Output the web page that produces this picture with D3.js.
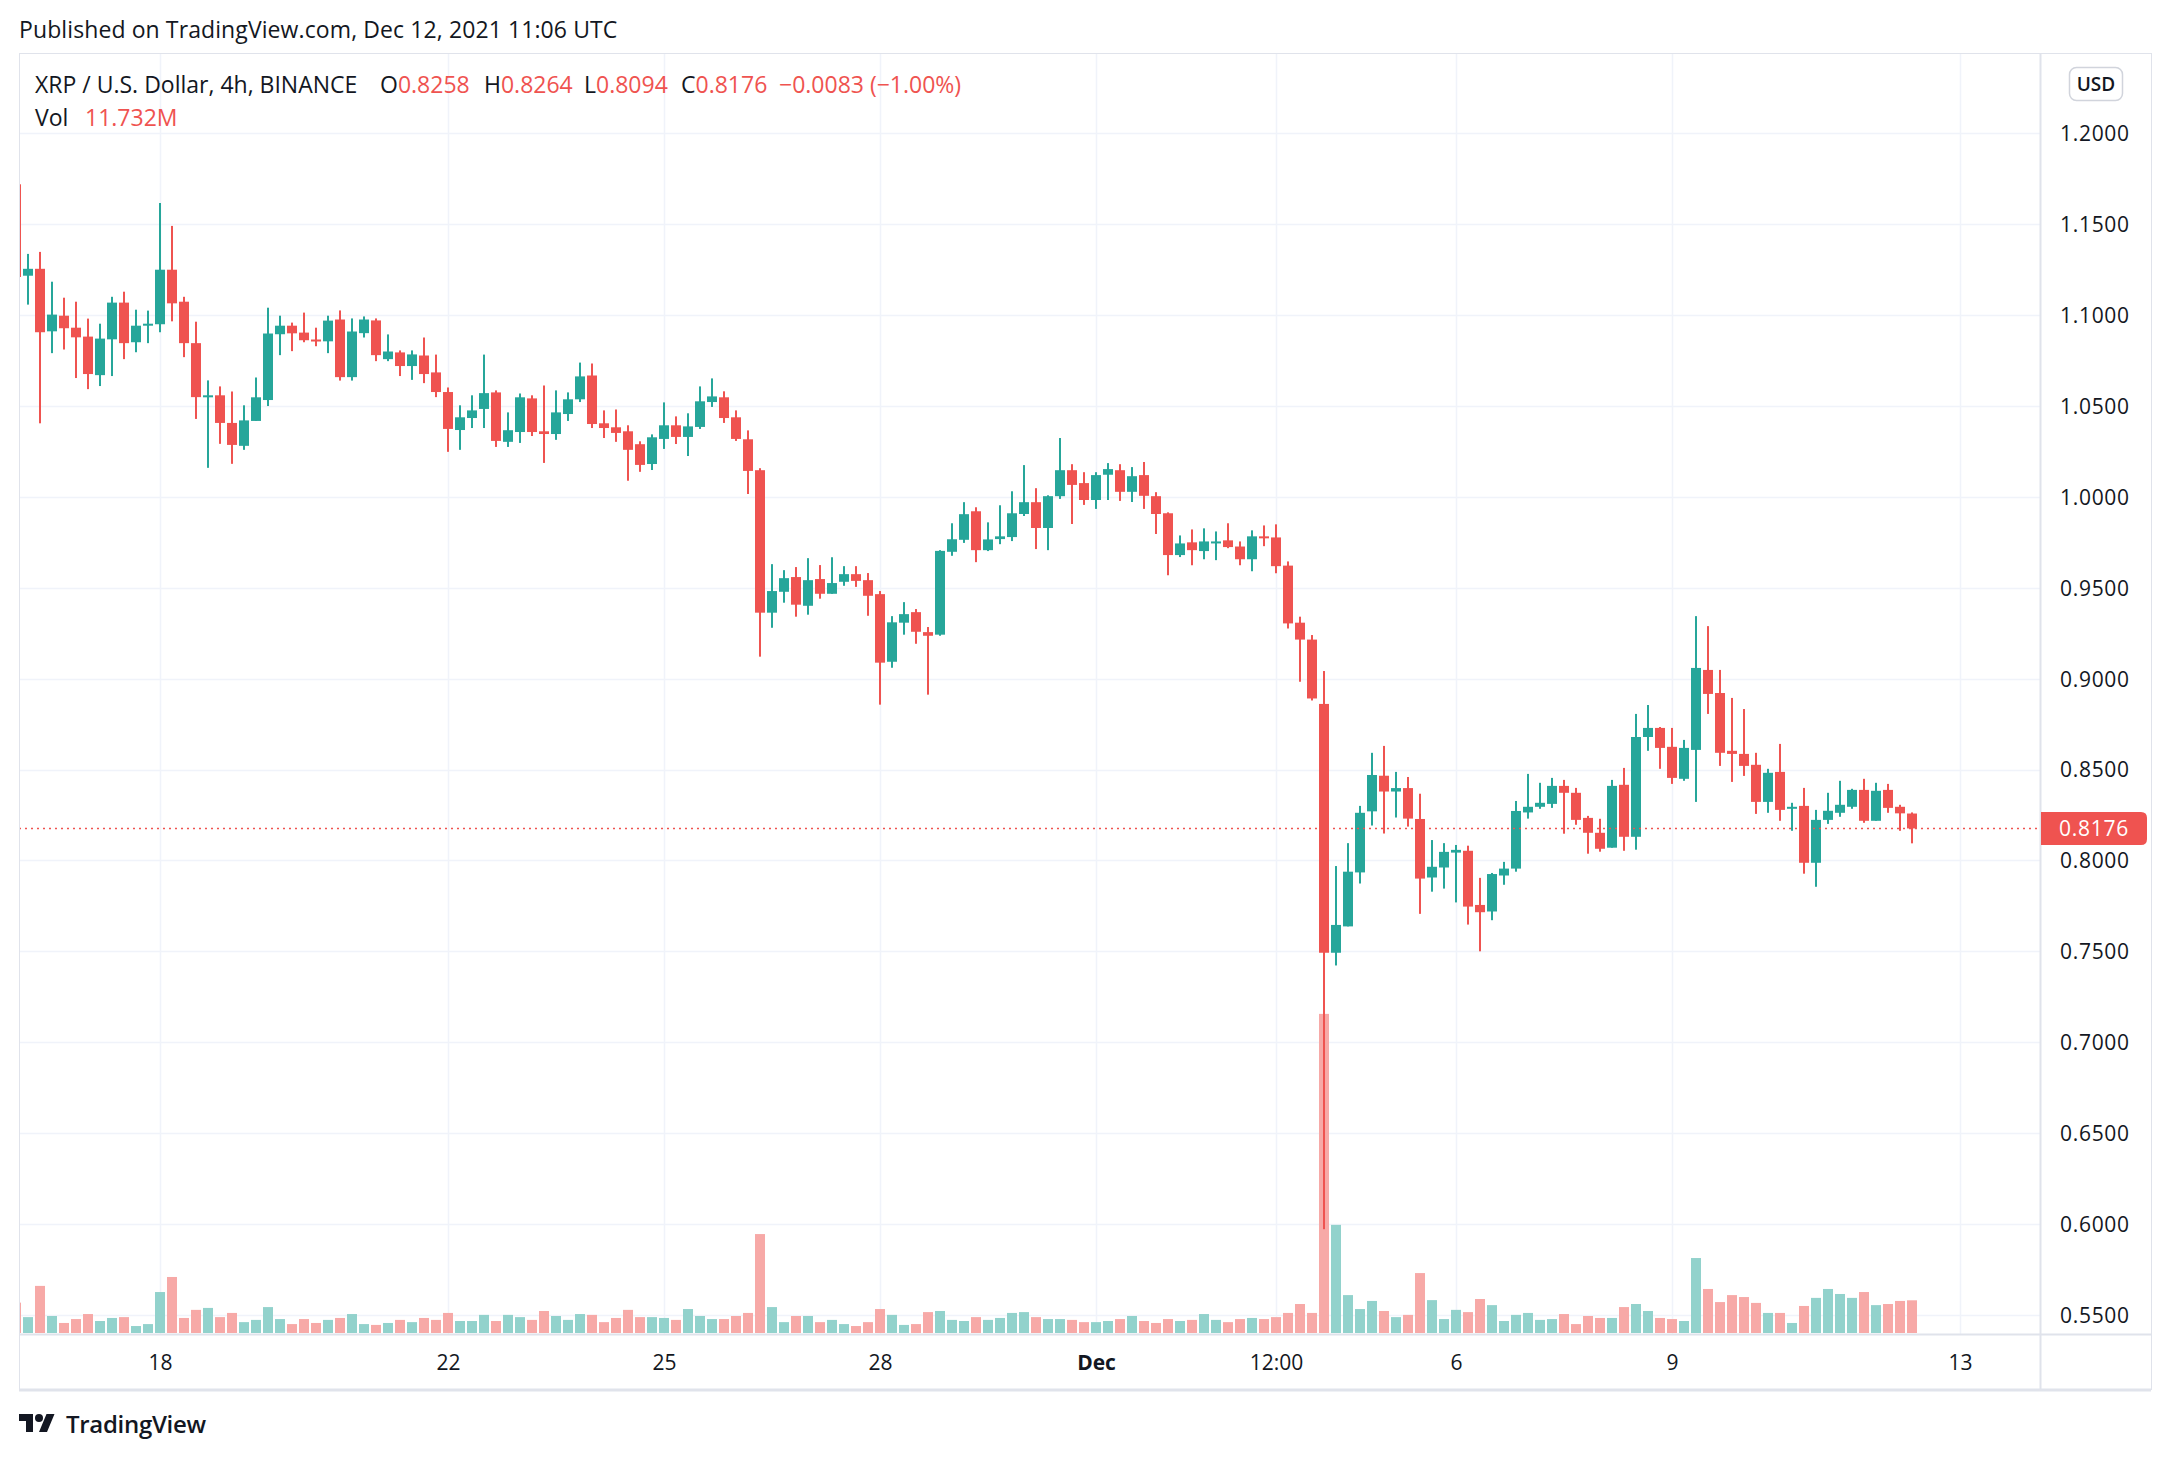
<!DOCTYPE html>
<html>
<head>
<meta charset="utf-8">
<script src="https://cdn.jsdelivr.net/npm/d3@7"></script>
<style>
  html, body { margin: 0; padding: 0; background: #ffffff; }
  svg { display: block; }
  text { font-family: "Open Sans", "Noto Sans", sans-serif; }
</style>
</head>
<body>
<svg id="chart" width="2172" height="1460"></svg>
<script>
// ---------- DATA (XRP/USD 4h, BINANCE, from Nov 16 2021 00:00 UTC) ----------
const startTime = Date.UTC(2021, 10, 16, 0, 0);
const open = [
1.172,1.1217,1.1255,1.0911,1.0997,1.0931,1.0882,1.0670,1.0867,1.1069,
1.0851,1.0944,1.0950,1.1250,1.1074,1.0846,1.0549,1.0559,1.0407,1.0281,
1.0418,1.0533,1.0895,1.0942,1.0904,1.0866,1.0856,1.0976,1.0659,1.0901,
1.0971,1.0758,1.0795,1.0720,1.0778,1.0685,1.0577,1.0368,1.0434,1.0484,
1.0575,1.0303,1.0357,1.0542,1.0361,1.0346,1.0456,1.0537,1.0668,1.0405,
1.0383,1.0361,1.0290,1.0181,1.0319,1.0394,1.0330,1.0385,1.0522,1.0548,
1.0438,1.0317,1.0147,0.9363,0.9478,0.9559,0.9401,0.9548,0.9467,0.9533,
0.9575,0.9542,0.9465,0.9093,0.9308,0.9366,0.9256,0.9242,0.9698,0.9764,
0.9921,0.9707,0.9768,0.9779,0.9906,0.9971,0.9829,1.0004,1.0147,1.0076,
0.9983,1.0122,1.0147,1.0028,1.0120,1.0004,0.9910,0.9680,0.9750,0.9702,
0.9746,0.9761,0.9727,0.9657,0.9783,0.9777,0.9622,0.9308,0.9215,0.8861,
0.7492,0.7637,0.7934,0.8270,0.8466,0.8379,0.8398,0.8228,0.7906,0.7961,
0.8043,0.8053,0.7755,0.7719,0.7917,0.7955,0.8264,0.8295,0.8311,0.8410,
0.8372,0.8234,0.8152,0.8070,0.8416,0.8130,0.8679,0.8729,0.8625,0.8449,
0.8608,0.9048,0.8921,0.8603,0.8586,0.8526,0.8322,0.8487,0.8284,0.8300,
0.7987,0.8223,0.8262,0.8295,0.8388,0.8218,0.8388,0.8295,0.8258];
const high = [
1.174,1.1337,1.1348,1.1184,1.1096,1.1074,1.0981,1.0953,1.1101,1.1129,
1.1030,1.1025,1.1617,1.1491,1.1101,1.0964,1.0641,1.0608,1.0580,1.0504,
1.0657,1.1041,1.0997,1.0959,1.1014,1.0931,1.0997,1.1026,1.0982,1.0993,
1.0982,1.0894,1.0806,1.0806,1.0877,1.0783,1.0602,1.0504,1.0559,1.0783,
1.0586,1.0465,1.0569,1.0559,1.0613,1.0586,1.0575,1.0739,1.0734,1.0476,
1.0481,1.0394,1.0306,1.0344,1.0520,1.0443,1.0460,1.0608,1.0652,1.0581,
1.0476,1.0366,1.0158,0.9630,0.9597,0.9614,0.9663,0.9625,0.9668,0.9619,
0.9619,0.9581,0.9482,0.9344,0.9421,0.9383,0.9284,0.9707,0.9855,0.9971,
0.9943,0.9860,0.9954,1.0031,1.0175,1.0048,1.0009,1.0324,1.0180,1.0136,
1.0136,1.0186,1.0180,1.0164,1.0192,1.0026,0.9915,0.9788,0.9821,0.9827,
0.9810,0.9855,0.9755,0.9816,0.9843,0.9849,0.9645,0.9341,0.9240,0.9042,
0.7969,0.8095,0.8300,0.8592,0.8630,0.8487,0.8459,0.8367,0.8112,0.8095,
0.8085,0.8081,0.7904,0.7931,0.7992,0.8327,0.8476,0.8427,0.8454,0.8443,
0.8399,0.8245,0.8229,0.8443,0.8509,0.8806,0.8855,0.8734,0.8729,0.8663,
0.9344,0.9289,0.9048,0.8894,0.8833,0.8592,0.8504,0.8641,0.8317,0.8399,
0.8278,0.8372,0.8438,0.8394,0.8449,0.8427,0.8421,0.8306,0.8264];
const low = [
1.119,1.1058,1.0405,1.0791,1.0811,1.0654,1.0593,1.0610,1.0665,1.0758,
1.0796,1.0846,1.0906,1.0966,1.0769,1.0429,1.0160,1.0292,1.0182,1.0259,
1.0418,1.0500,1.0780,1.0802,1.0851,1.0829,1.0791,1.0640,1.0640,1.0877,
1.0747,1.0747,1.0665,1.0644,1.0626,1.0549,1.0248,1.0259,1.0379,1.0379,
1.0275,1.0275,1.0297,1.0335,1.0187,1.0314,1.0418,1.0522,1.0379,1.0324,
1.0303,1.0089,1.0138,1.0148,1.0264,1.0291,1.0225,1.0374,1.0495,1.0407,
1.0308,1.0016,0.9121,0.9280,0.9418,0.9341,0.9352,0.9440,0.9467,0.9511,
0.9505,0.9346,0.8857,0.9060,0.9242,0.9192,0.8912,0.9236,0.9676,0.9747,
0.9641,0.9702,0.9740,0.9757,0.9895,0.9713,0.9707,0.9989,0.9851,0.9956,
0.9934,0.9983,0.9978,0.9972,0.9934,0.9796,0.9569,0.9669,0.9624,0.9657,
0.9652,0.9718,0.9624,0.9591,0.9729,0.9580,0.9276,0.8983,0.8880,0.5971,
0.7422,0.7637,0.7873,0.8192,0.8148,0.8236,0.8186,0.7706,0.7828,0.7845,
0.7769,0.7647,0.7500,0.7671,0.7866,0.7938,0.8230,0.8284,0.8289,0.8147,
0.8196,0.8037,0.8048,0.8070,0.8053,0.8059,0.8603,0.8504,0.8421,0.8438,
0.8322,0.8806,0.8520,0.8432,0.8465,0.8256,0.8262,0.8218,0.8163,0.7927,
0.7855,0.8201,0.8240,0.8284,0.8207,0.8218,0.8262,0.8163,0.8094];
const close = [
1.121,1.1255,1.0906,1.1003,1.0928,1.0878,1.0676,1.0871,1.1069,1.0846,
1.0942,1.0953,1.1250,1.1065,1.0846,1.0549,1.0559,1.0407,1.0286,1.0421,
1.0548,1.0899,1.0942,1.0900,1.0862,1.0856,1.0970,1.0659,1.0910,1.0976,
1.0780,1.0800,1.0720,1.0784,1.0676,1.0577,1.0374,1.0438,1.0476,1.0571,
1.0308,1.0367,1.0548,1.0357,1.0346,1.0465,1.0537,1.0663,1.0401,1.0379,
1.0352,1.0259,1.0176,1.0328,1.0394,1.0330,1.0388,1.0526,1.0553,1.0434,
1.0319,1.0143,0.9363,0.9482,0.9553,0.9407,0.9542,0.9467,0.9526,0.9575,
0.9538,0.9456,0.9088,0.9310,0.9355,0.9258,0.9236,0.9703,0.9767,0.9905,
0.9707,0.9766,0.9783,0.9910,0.9971,0.9829,1.0004,1.0147,1.0066,0.9983,
1.0120,1.0153,1.0028,1.0114,1.0006,0.9906,0.9680,0.9744,0.9707,0.9755,
0.9755,0.9724,0.9657,0.9783,0.9772,0.9619,0.9304,0.9215,0.8891,0.7492,
0.7645,0.7938,0.8262,0.8470,0.8379,0.8398,0.8230,0.7900,0.7965,0.8047,
0.8058,0.7746,0.7715,0.7925,0.7955,0.8272,0.8295,0.8317,0.8410,0.8372,
0.8223,0.8152,0.8064,0.8410,0.8130,0.8679,0.8729,0.8619,0.8454,0.8619,
0.9059,0.8916,0.8592,0.8586,0.8520,0.8322,0.8482,0.8278,0.8295,0.7987,
0.8223,0.8273,0.8306,0.8388,0.8218,0.8383,0.8289,0.8259,0.8176];
// volume in millions XRP
const volume = [
10.9,5.7,16.9,6.1,3.6,5.0,6.8,4.3,5.4,5.7,
2.5,3.2,14.7,20.1,5.4,8.3,9.0,5.7,7.2,3.9,
4.7,9.3,5.0,3.2,5.0,3.6,4.7,5.4,6.8,3.2,
2.9,3.6,4.7,3.9,5.4,4.7,7.2,4.3,4.3,6.5,
4.3,6.5,5.7,4.7,7.9,6.1,4.7,6.8,6.5,3.9,
5.4,8.3,5.7,5.7,5.4,4.7,8.6,6.1,5.0,5.0,
6.1,7.2,35.5,9.3,3.9,6.1,6.1,3.9,4.7,3.2,
2.5,3.9,8.6,6.5,2.9,3.2,7.5,7.9,4.7,4.3,
5.7,4.7,5.4,7.2,7.5,5.7,5.0,5.0,4.7,3.9,
3.9,4.3,5.0,6.1,4.3,3.6,5.0,4.3,4.7,6.8,
4.7,3.9,5.0,5.4,5.0,5.7,7.2,10.4,7.2,114.5,
38.8,13.6,8.6,11.5,7.9,5.7,6.5,21.5,11.8,5.0,
8.3,7.5,12.2,10.0,4.3,6.5,7.2,4.7,5.0,6.8,
3.2,6.1,5.4,5.4,9.3,10.4,7.9,5.4,5.0,4.3,
26.9,15.8,11.1,13.6,12.9,10.8,7.2,7.2,3.6,9.7,
12.6,15.8,14.0,12.6,14.7,10.0,10.4,11.5,11.732];

const priceTicks = [1.20,1.15,1.10,1.05,1.00,0.95,0.90,0.85,0.80,0.75,0.70,0.65,0.60,0.55];
const timeTickDates = [
  Date.UTC(2021,10,18), Date.UTC(2021,10,22), Date.UTC(2021,10,25), Date.UTC(2021,10,28),
  Date.UTC(2021,11,1), Date.UTC(2021,11,3,12), Date.UTC(2021,11,6), Date.UTC(2021,11,9), Date.UTC(2021,11,13)];
const timeTickLabels = ["18","22","25","28","Dec","12:00","6","9","13"];
const lastPrice = 0.8176;

// ---------- LAYOUT ----------
const W = 2172, H = 1460;
const plot = {left: 19, right: 2040, top: 53, bottom: 1334};
const axisRight = 2151, axisBottom = 1389;
const UP = "#26a69a", DOWN = "#ef5350";
const UPV = "#92d2cc", DOWNV = "#f7a9a7";
const TXT = "#131722", GRID = "#f0f3fa", BORDER = "#e0e3eb";

const svg = d3.select("#chart");
svg.append("rect").attr("width", W).attr("height", H).attr("fill", "#fff");

const HOUR = 3600 * 1000;
const dates = open.map((_, i) => new Date(startTime + i * 4 * HOUR));
const candles = dates.map((d, i) => ({d, o: open[i], h: high[i], l: low[i], c: close[i], v: volume[i]}));

const x = d3.scaleUtc()
  .domain([new Date(startTime), new Date(Date.UTC(2021, 11, 13))])
  .range([16, 16 + 12 * 162]);
const y = d3.scaleLinear().domain([0.55, 1.2]).range([1314.8, 133.4]);
const yv = d3.scaleLinear().domain([0, 100]).range([1333, 1333 - 278.7]);

const bodyW = 10, wickW = 2;

// clip path
svg.append("defs").append("clipPath").attr("id", "plotclip")
  .append("rect").attr("x", plot.left + 1).attr("y", plot.top + 1)
  .attr("width", plot.right - plot.left - 1).attr("height", plot.bottom - plot.top - 1);

// grid
const grid = svg.append("g").attr("clip-path", "url(#plotclip)");
grid.selectAll("line.h").data(priceTicks).join("line")
  .attr("x1", plot.left).attr("x2", plot.right)
  .attr("y1", d => Math.round(y(d)) + 0.5).attr("y2", d => Math.round(y(d)) + 0.5)
  .attr("stroke", GRID).attr("stroke-width", 1.5);
grid.selectAll("line.v").data(timeTickDates).join("line")
  .attr("x1", d => Math.round(x(new Date(d))) + 0.5).attr("x2", d => Math.round(x(new Date(d))) + 0.5)
  .attr("y1", plot.top).attr("y2", plot.bottom)
  .attr("stroke", GRID).attr("stroke-width", 1.5);

// volume bars
const marks = svg.append("g").attr("clip-path", "url(#plotclip)");
marks.selectAll("rect.vol").data(candles).join("rect")
  .attr("x", d => x(d.d) - bodyW / 2)
  .attr("width", bodyW)
  .attr("y", d => yv(d.v))
  .attr("height", d => yv(0) - yv(d.v))
  .attr("fill", d => d.c >= d.o ? UPV : DOWNV);

// wicks
marks.selectAll("rect.wick").data(candles).join("rect")
  .attr("x", d => x(d.d) - wickW / 2)
  .attr("width", wickW)
  .attr("y", d => y(d.h))
  .attr("height", d => Math.max(1, y(d.l) - y(d.h)))
  .attr("fill", d => d.c >= d.o ? UP : DOWN);

// bodies
marks.selectAll("rect.body").data(candles).join("rect")
  .attr("x", d => x(d.d) - bodyW / 2)
  .attr("width", bodyW)
  .attr("y", d => y(Math.max(d.o, d.c)))
  .attr("height", d => Math.max(2, Math.abs(y(d.o) - y(d.c))))
  .attr("fill", d => d.c >= d.o ? UP : DOWN);

// last price dotted line
svg.append("line")
  .attr("x1", plot.left).attr("x2", plot.right)
  .attr("y1", y(lastPrice)).attr("y2", y(lastPrice))
  .attr("stroke", DOWN).attr("stroke-width", 1.5).attr("stroke-dasharray", "2,4");

// borders
svg.append("rect").attr("x", plot.left + 0.5).attr("y", plot.top + 0.5)
  .attr("width", axisRight - plot.left).attr("height", axisBottom - plot.top)
  .attr("fill", "none").attr("stroke", BORDER).attr("stroke-width", 1);
svg.append("line").attr("x1", plot.right + 0.5).attr("x2", plot.right + 0.5)
  .attr("y1", plot.top).attr("y2", axisBottom).attr("stroke", BORDER).attr("stroke-width", 2);
svg.append("line").attr("x1", plot.left).attr("x2", axisRight)
  .attr("y1", plot.bottom + 0.5).attr("y2", plot.bottom + 0.5).attr("stroke", BORDER).attr("stroke-width", 2);
svg.append("line").attr("x1", plot.left).attr("x2", axisRight)
  .attr("y1", axisBottom + 1).attr("y2", axisBottom + 1).attr("stroke", BORDER).attr("stroke-width", 3);

// price axis
const yAxis = d3.axisRight(y).tickValues(priceTicks).tickFormat(d3.format(".4f")).tickSize(0).tickPadding(0);
const ya = svg.append("g").attr("transform", `translate(2060,0)`).call(yAxis);
ya.select(".domain").remove();
ya.selectAll("text").attr("fill", TXT).attr("font-size", 21)
  .attr("font-family", "'Open Sans', sans-serif").attr("letter-spacing", "0.7px").attr("dy", "0.35em");

// USD box
svg.append("rect").attr("x", 2069.5).attr("y", 67.5).attr("width", 53).attr("height", 33).attr("rx", 7)
  .attr("fill", "#fff").attr("stroke", "#d1d4dc").attr("stroke-width", 1.5);
svg.append("text").attr("x", 2096).attr("y", 91).attr("text-anchor", "middle")
  .attr("font-size", 19).attr("font-weight", 600).attr("fill", TXT).text("USD");

// last price label
svg.append("path")
  .attr("d", `M2041,812 H2141 Q2147,812 2147,818 V839 Q2147,845 2141,845 H2041 Z`)
  .attr("fill", DOWN);
svg.append("text").attr("x", 2094).attr("y", y(lastPrice)).attr("dy", "0.35em")
  .attr("text-anchor", "middle").attr("font-size", 21).attr("letter-spacing", "0.7px")
  .attr("fill", "#fff").text(d3.format(".4f")(lastPrice));

// time axis
const xAxis = d3.axisBottom(x).tickValues(timeTickDates.map(d => new Date(d)))
  .tickFormat((d, i) => timeTickLabels[i]).tickSize(0).tickPadding(0);
const xa = svg.append("g").attr("transform", `translate(0,1370)`).call(xAxis);
xa.select(".domain").remove();
xa.selectAll("text").attr("fill", TXT).attr("font-size", 21).attr("dy", 0)
  .attr("font-weight", (d, i) => timeTickLabels[i] === "Dec" ? 700 : 400);

// header
svg.append("text").attr("x", 19).attr("y", 38).attr("font-size", 23).attr("letter-spacing", "0.1px").attr("fill", TXT)
  .text("Published on TradingView.com, Dec 12, 2021 11:06 UTC");

const legend = svg.append("text").attr("y", 93).attr("font-size", 23).attr("fill", TXT);
legend.append("tspan").attr("x", 35).text("XRP / U.S. Dollar, 4h, BINANCE");
const n = close.length - 1;
const ohlc = [["O", open[n], 380], ["H", high[n], 484], ["L", low[n], 584], ["C", close[n], 681]];
ohlc.forEach(([k, v, px]) => {
  legend.append("tspan").attr("x", px).attr("fill", TXT).text(k);
  legend.append("tspan").attr("fill", DOWN).text(d3.format(".4f")(v));
});
const chg = close[n] - close[n - 1];
const chgPct = chg / close[n - 1] * 100;
legend.append("tspan").attr("x", 779).attr("fill", DOWN)
  .text(`\u2212${Math.abs(chg).toFixed(4)} (\u2212${Math.abs(chgPct).toFixed(2)}%)`);

const vleg = svg.append("text").attr("y", 126).attr("font-size", 23).attr("fill", TXT);
vleg.append("tspan").attr("x", 35).text("Vol");
vleg.append("tspan").attr("x", 85).attr("fill", DOWN).text(`${volume[n].toFixed(3)}M`);

// TradingView logo
const logo = svg.append("g").attr("transform", "translate(19,1410)").attr("fill", TXT);
logo.append("path").attr("d", "M14 22H7V11H0V4h14v18ZM28 22h-8l7.5-18h8L28 22Z");
logo.append("circle").attr("cx", 20).attr("cy", 8).attr("r", 4);
svg.append("text").attr("x", 66).attr("y", 1433).attr("font-size", 24).attr("font-weight", 600)
  .attr("fill", TXT).attr("letter-spacing", "-0.3px").text("TradingView");
</script>
</body>
</html>
